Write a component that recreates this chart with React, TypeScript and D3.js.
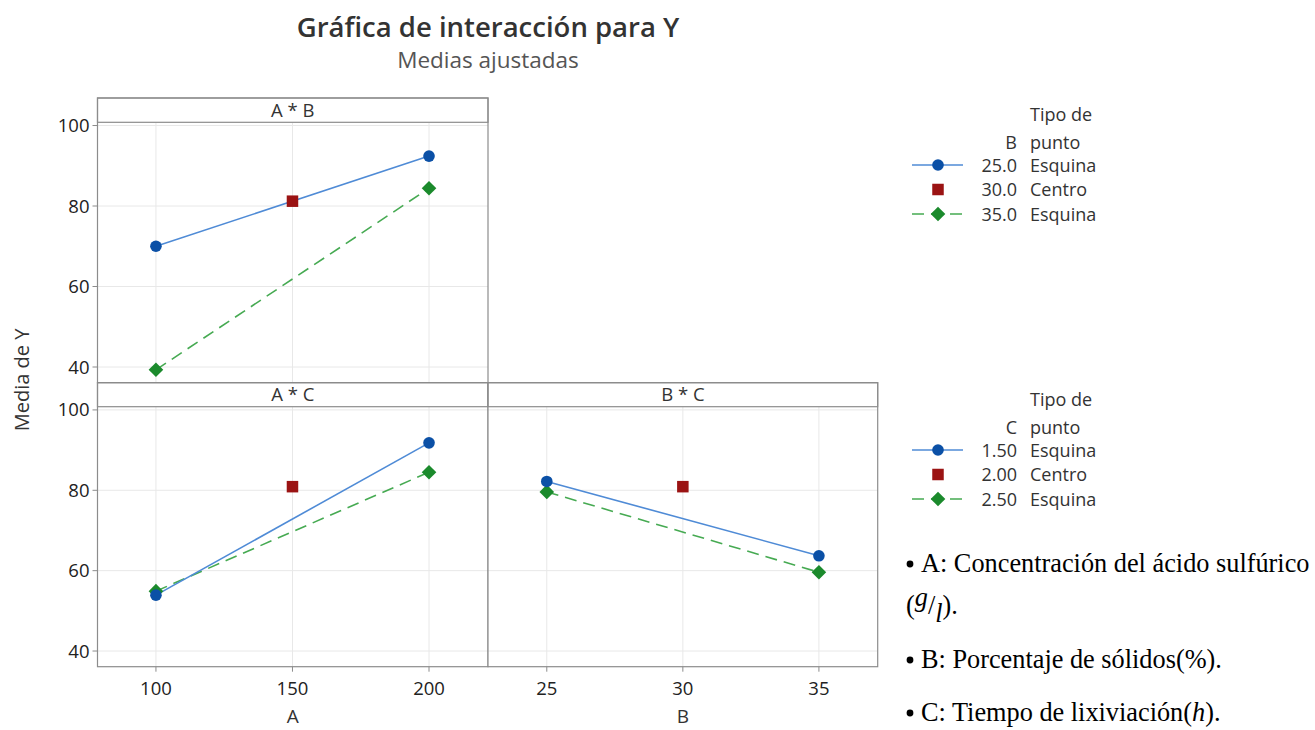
import React from "react";
import * as d3 from "d3";

// ---------- data ----------
const A_LEVELS = [100, 200];
const A_CENTER = 150;
const B_LEVELS = [25, 35];
const B_CENTER = 30;

const A_TICKS = [100, 150, 200];
const B_TICKS = [25, 30, 35];
const Y_TICKS = [40, 60, 80, 100];

// A * B panel (series by B)
const AB_B25 = [70.0, 92.4];
const AB_B35 = [39.3, 84.4];
const AB_CENTER = 81.2;

// A * C panel (series by C)
const AC_C150 = [53.9, 91.8];
const AC_C250 = [54.9, 84.5];
const AC_CENTER = 80.9;

// B * C panel (series by C)
const BC_C150 = [82.2, 63.7];
const BC_C250 = [79.6, 59.6];
const BC_CENTER = 80.9;

const LEGEND_B = ["25.0", "30.0", "35.0"];
const LEGEND_C = ["1.50", "2.00", "2.50"];
const LEGEND_TYPE = ["Esquina", "Centro", "Esquina"];

// ---------- style ----------
const SANS = "'Open Sans', 'Noto Sans', sans-serif";
const SERIF = "'Liberation Serif', 'Times New Roman', serif";
const BLUE_LINE = "#4f8bd6";
const BLUE_MARK = "#0b50a6";
const GREEN_LINE = "#46aa52";
const GREEN_MARK = "#1b8a2c";
const RED_MARK = "#9b1313";
const BORDER = "#8c8c8c";
const GRID = "#e8e8e8";
const TEXT = "#333333";
const DASH = "12 7";

const Y_DOMAIN: [number, number] = [36.1, 100.8];

type Panel = {
  label: string;
  x0: number;
  x1: number;
  top: number;
  stripH: number;
  bottom: number;
  xDomain: [number, number];
  xTicks: number[];
  levels: number[];
  center: number;
  s1: number[];
  s2: number[];
  centerVal: number;
  showY: boolean;
  showX: boolean;
  xTitle?: string;
};

const panels: Panel[] = [
  {
    label: "A * B",
    x0: 97.5, x1: 488, top: 98, stripH: 24.3, bottom: 382.7,
    xDomain: [78.6, 221.6], xTicks: A_TICKS, levels: A_LEVELS, center: A_CENTER,
    s1: AB_B25, s2: AB_B35, centerVal: AB_CENTER, showY: true, showX: false,
  },
  {
    label: "A * C",
    x0: 97.5, x1: 488, top: 382.7, stripH: 24, bottom: 666.7,
    xDomain: [78.6, 221.6], xTicks: A_TICKS, levels: A_LEVELS, center: A_CENTER,
    s1: AC_C150, s2: AC_C250, centerVal: AC_CENTER, showY: true, showX: true, xTitle: "A",
  },
  {
    label: "B * C",
    x0: 488, x1: 877.7, top: 382.7, stripH: 24, bottom: 666.7,
    xDomain: [22.84, 37.16], xTicks: B_TICKS, levels: B_LEVELS, center: B_CENTER,
    s1: BC_C150, s2: BC_C250, centerVal: BC_CENTER, showY: false, showX: true, xTitle: "B",
  },
];

function Diamond({ x, y, r }: { x: number; y: number; r: number }) {
  return (
    <path
      d={`M${x},${y - r}L${x + r},${y}L${x},${y + r}L${x - r},${y}Z`}
      fill={GREEN_MARK}
    />
  );
}

function PanelView({ p }: { p: Panel }) {
  const plotTop = p.top + p.stripH;
  const x = d3.scaleLinear().domain(p.xDomain).range([p.x0, p.x1]);
  const y = d3.scaleLinear().domain(Y_DOMAIN).range([p.bottom, plotTop]);
  const line = d3
    .line<[number, number]>()
    .x((d) => x(d[0]))
    .y((d) => y(d[1]));
  const pts1: [number, number][] = p.levels.map((l, i) => [l, p.s1[i]]);
  const pts2: [number, number][] = p.levels.map((l, i) => [l, p.s2[i]]);
  const sq = 11.5;
  return (
    <g>
      <rect x={p.x0} y={plotTop} width={p.x1 - p.x0} height={p.bottom - plotTop} fill="#fff" />
      {Y_TICKS.map((t) => (
        <line key={"gy" + t} x1={p.x0} x2={p.x1} y1={y(t)} y2={y(t)} stroke={GRID} strokeWidth={1} />
      ))}
      {p.xTicks.map((t) => (
        <line key={"gx" + t} x1={x(t)} x2={x(t)} y1={plotTop} y2={p.bottom} stroke={GRID} strokeWidth={1} />
      ))}
      <path d={line(pts2) || ""} fill="none" stroke={GREEN_LINE} strokeWidth={1.6} strokeDasharray={DASH} />
      <path d={line(pts1) || ""} fill="none" stroke={BLUE_LINE} strokeWidth={1.6} />
      {pts2.map((d, i) => (
        <Diamond key={"d" + i} x={x(d[0])} y={y(d[1])} r={7.3} />
      ))}
      {pts1.map((d, i) => (
        <circle key={"c" + i} cx={x(d[0])} cy={y(d[1])} r={5.8} fill={BLUE_MARK} />
      ))}
      <rect
        x={x(p.center) - sq / 2}
        y={y(p.centerVal) - sq / 2}
        width={sq}
        height={sq}
        fill={RED_MARK}
      />
      {/* strip */}
      <rect x={p.x0} y={p.top} width={p.x1 - p.x0} height={p.stripH} fill="#fff" stroke={BORDER} strokeWidth={1.2} />
      <text
        x={(p.x0 + p.x1) / 2}
        y={p.top + p.stripH / 2 + 6.5}
        textAnchor="middle"
        fontFamily={SANS}
        fontSize={18.5}
        fill={TEXT}
      >
        {p.label}
      </text>
      {/* border */}
      <rect x={p.x0} y={p.top} width={p.x1 - p.x0} height={p.bottom - p.top} fill="none" stroke={BORDER} strokeWidth={1.2} />
      {p.showY &&
        Y_TICKS.map((t) => (
          <g key={"ty" + t}>
            <line x1={p.x0 - 5} x2={p.x0} y1={y(t)} y2={y(t)} stroke={BORDER} />
            <text
              x={p.x0 - 8}
              y={y(t) + 6.5}
              textAnchor="end"
              fontFamily={SANS}
              fontSize={18.5}
              fill="#222"
            >
              {t}
            </text>
          </g>
        ))}
      {p.showX &&
        p.xTicks.map((t) => (
          <g key={"tx" + t}>
            <line x1={x(t)} x2={x(t)} y1={p.bottom} y2={p.bottom + 5} stroke={BORDER} />
            <text
              x={x(t)}
              y={p.bottom + 28.5}
              textAnchor="middle"
              fontFamily={SANS}
              fontSize={18.5}
              fill="#222"
            >
              {t}
            </text>
          </g>
        ))}
      {p.xTitle && (
        <text
          x={(p.x0 + p.x1) / 2}
          y={723}
          textAnchor="middle"
          fontFamily={SANS}
          fontSize={19}
          fill={TEXT}
        >
          {p.xTitle}
        </text>
      )}
    </g>
  );
}

function Legend({ top, factor, values }: { top: number; factor: string; values: string[] }) {
  const lx0 = 912;
  const lx1 = 963;
  const mx = 938;
  const numX = 1017;
  const typeX = 1030;
  const rows = [top + 53, top + 77.5, top + 102];
  const fs = 18;
  return (
    <g fontFamily={SANS} fontSize={fs} fill={TEXT}>
      <text x={typeX} y={top + 9}>Tipo de</text>
      <text x={numX} y={top + 37} textAnchor="end">{factor}</text>
      <text x={typeX} y={top + 37}>punto</text>
      {/* row 1 */}
      <line x1={lx0} x2={lx1} y1={rows[0]} y2={rows[0]} stroke={BLUE_LINE} strokeWidth={1.6} />
      <circle cx={mx} cy={rows[0]} r={5.8} fill={BLUE_MARK} />
      {/* row 2 */}
      <rect x={mx - 5.75} y={rows[1] - 5.75} width={11.5} height={11.5} fill={RED_MARK} />
      {/* row 3 */}
      <line x1={lx0} x2={lx1} y1={rows[2]} y2={rows[2]} stroke={GREEN_LINE} strokeWidth={1.6} strokeDasharray={DASH} />
      <Diamond x={mx} y={rows[2]} r={7.3} />
      {rows.map((ry, i) => (
        <g key={i}>
          <text x={numX} y={ry + 6.5} textAnchor="end">{values[i]}</text>
          <text x={typeX} y={ry + 6.5}>{LEGEND_TYPE[i]}</text>
        </g>
      ))}
    </g>
  );
}

const NOTE_Y = [572, 614, 668, 721];

export default function App() {
  return (
    <svg width={1315} height={730} style={{ position: "absolute", left: 0, top: 0, background: "#fff" }}>
      <rect x={0} y={0} width={1315} height={730} fill="#fff" />
      <text x={488} y={37} textAnchor="middle" fontFamily={SANS} fontSize={27.5} fontWeight={600} fill={TEXT}>
        Gráfica de interacción para Y
      </text>
      <text x={488} y={68} textAnchor="middle" fontFamily={SANS} fontSize={22.5} fill="#555">
        Medias ajustadas
      </text>
      <text
        transform="translate(29,380) rotate(-90)"
        textAnchor="middle"
        fontFamily={SANS}
        fontSize={20}
        fill={TEXT}
      >
        Media de Y
      </text>
      {panels.map((p) => (
        <PanelView key={p.label} p={p} />
      ))}
      <Legend top={112} factor="B" values={LEGEND_B} />
      <Legend top={397} factor="C" values={LEGEND_C} />
      <g fontFamily={SERIF} fontSize={26.3} fill="#000">
        <circle cx={910} cy={NOTE_Y[0] - 8} r={3.4} />
        <text x={921} y={NOTE_Y[0]}>A: Concentración del ácido sulfúrico</text>
        <text x={906} y={NOTE_Y[1]}>
          (
          <tspan fontStyle="italic" dy={-8}>g</tspan>
          <tspan dy={8}>/</tspan>
          <tspan fontStyle="italic" dy={8}>l</tspan>
          <tspan dy={-8}>).</tspan>
        </text>
        <circle cx={910} cy={NOTE_Y[2] - 8} r={3.4} />
        <text x={921} y={NOTE_Y[2]}>B: Porcentaje de sólidos(%).</text>
        <circle cx={910} cy={NOTE_Y[3] - 8} r={3.4} />
        <text x={921} y={NOTE_Y[3]}>
          C: Tiempo de lixiviación(<tspan fontStyle="italic">h</tspan>).
        </text>
      </g>
    </svg>
  );
}
